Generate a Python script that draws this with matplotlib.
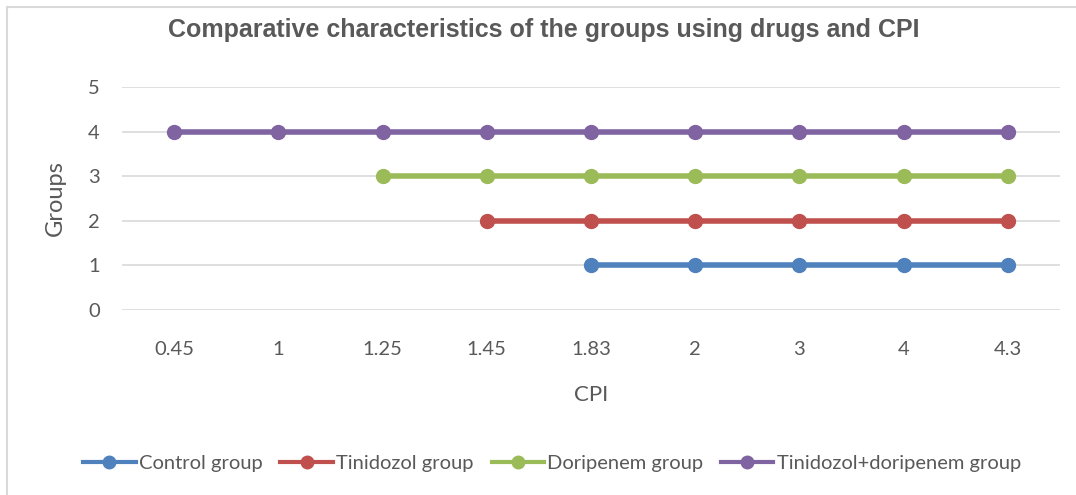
import numpy as np
import matplotlib.pyplot as plt
from matplotlib.patches import Rectangle

# data
categories = ['0.45', '1', '1.25', '1.45', '1.83', '2', '3', '4', '4.3']
control = [None, None, None, None, 1, 1, 1, 1, 1]
tinidozol = [None, None, None, 2, 2, 2, 2, 2, 2]
doripenem = [None, None, 3, 3, 3, 3, 3, 3, 3]
combined = [4, 4, 4, 4, 4, 4, 4, 4, 4]

series_names = ['Control group', 'Tinidozol group', 'Doripenem group',
                'Tinidozol+doripenem group']
colors = ['#4F81BD', '#C0504D', '#9BBB59', '#8064A2']

TEXT = '#595959'
plt.rcParams['font.family'] = ['Lato', 'DejaVu Sans']

fig = plt.figure(figsize=(10.76, 4.95), dpi=100)
ax = fig.add_axes([122 / 1076, 1 - 310 / 495, 938 / 1076, 223 / 495])

x = np.arange(len(categories))
for vals, name, c in zip([control, tinidozol, doripenem, combined], series_names, colors):
    y = np.array([np.nan if v is None else v for v in vals], dtype=float)
    ax.plot(x, y, color=c, lw=4, marker='o', ms=10, label=name, zorder=3)

ax.set_xlim(-0.5, len(categories) - 0.5)
ax.set_ylim(0, 5)
ax.set_yticks(range(6))
ax.set_xticks(x)
ax.set_xticklabels(categories)
ax.grid(axis='y', color='#D9D9D9', lw=1.2)
ax.set_axisbelow(True)
for s in ax.spines.values():
    s.set_visible(False)
ax.tick_params(length=0, labelsize=14.5, colors=TEXT)
ax.tick_params(axis='y', pad=16)
ax.tick_params(axis='x', pad=22)
ax.set_xlabel('CPI', fontsize=16, color=TEXT, va='center')
ax.xaxis.set_label_coords(0.5, -(395 - 310) / 223)
ax.set_ylabel('Groups', fontsize=17, color=TEXT, va='center')
ax.yaxis.set_label_coords(-(122 - 55) / 938, 0.5)

fig.text(544 / 1076, 1 - 30 / 495, 'Comparative characteristics of the groups using drugs and CPI',
         ha='center', va='center', fontsize=18, fontweight='bold', color=TEXT,
         family=['Liberation Sans', 'DejaVu Sans'])

leg = fig.legend(loc='center', bbox_to_anchor=(552 / 1076, 1 - 463 / 495), ncol=4,
                 frameon=False, fontsize=14.5, labelcolor=TEXT, handlelength=2.6,
                 handletextpad=0.15, columnspacing=0.9)
for h in leg.legend_handles:
    h.set_linewidth(3)
    h.set_markersize(9)

fig.patches.append(Rectangle((7 / 1076, -0.1), 1.2, (1 - 7 / 495) + 0.1,
                             transform=fig.transFigure, fill=False,
                             edgecolor='#D9D9D9', lw=1.5))

fig.savefig('out.png', dpi=100)
